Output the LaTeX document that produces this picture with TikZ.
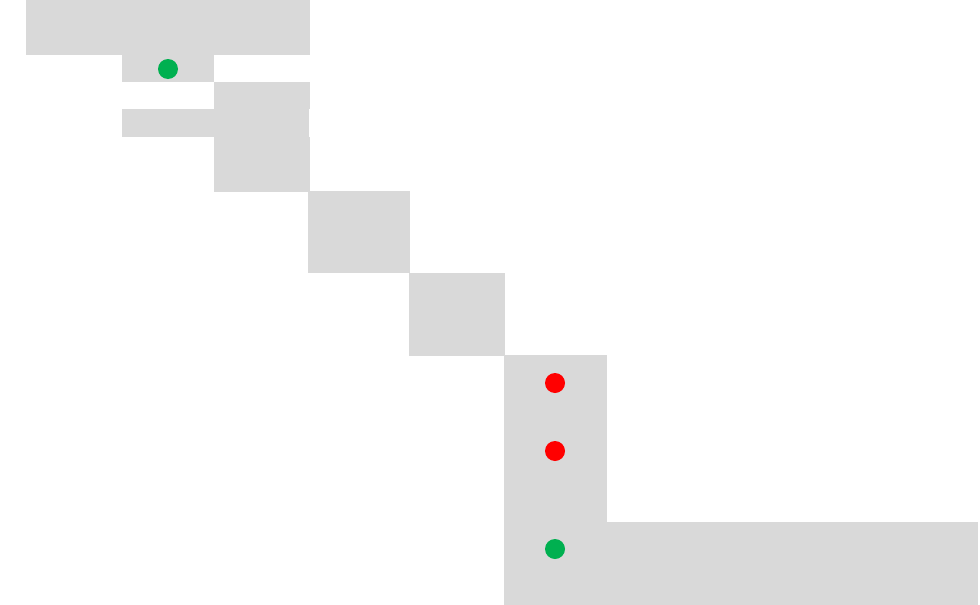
\documentclass[tikz,border=0pt]{standalone}
\definecolor{bgray}{HTML}{D9D9D9}
\definecolor{dgreen}{HTML}{00B050}
\definecolor{dred}{HTML}{FF0000}
\tikzset{
  block/.style={fill=bgray, draw=none},
  gdot/.style={circle, fill=dgreen, draw=none, minimum size=20pt, inner sep=0pt},
  rdot/.style={circle, fill=dred, draw=none, minimum size=20pt, inner sep=0pt}
}
\begin{document}
\begin{tikzpicture}[x=1pt,y=-1pt]
\useasboundingbox (0,0) rectangle (980,605);
\fill[white] (0,0) rectangle (980,605);
\fill[block] (26,0) rectangle (310,55);
\fill[block] (122,55) rectangle (214,82);
\fill[block] (214,82) rectangle (310,109);
\fill[block] (122,109) rectangle (309,137);
\fill[block] (214,137) rectangle (310,192);
\fill[block] (308,191) rectangle (410,273);
\fill[block] (409,273) rectangle (505,356);
\fill[block] (504,355) rectangle (607,522);
\fill[block] (504,522) rectangle (978,605);
\node[gdot] (g1) at (168,69) {};
\node[rdot] (r1) at (555,383) {};
\node[rdot] (r2) at (555,451) {};
\node[gdot] (g2) at (555,549) {};
\end{tikzpicture}
\end{document}
